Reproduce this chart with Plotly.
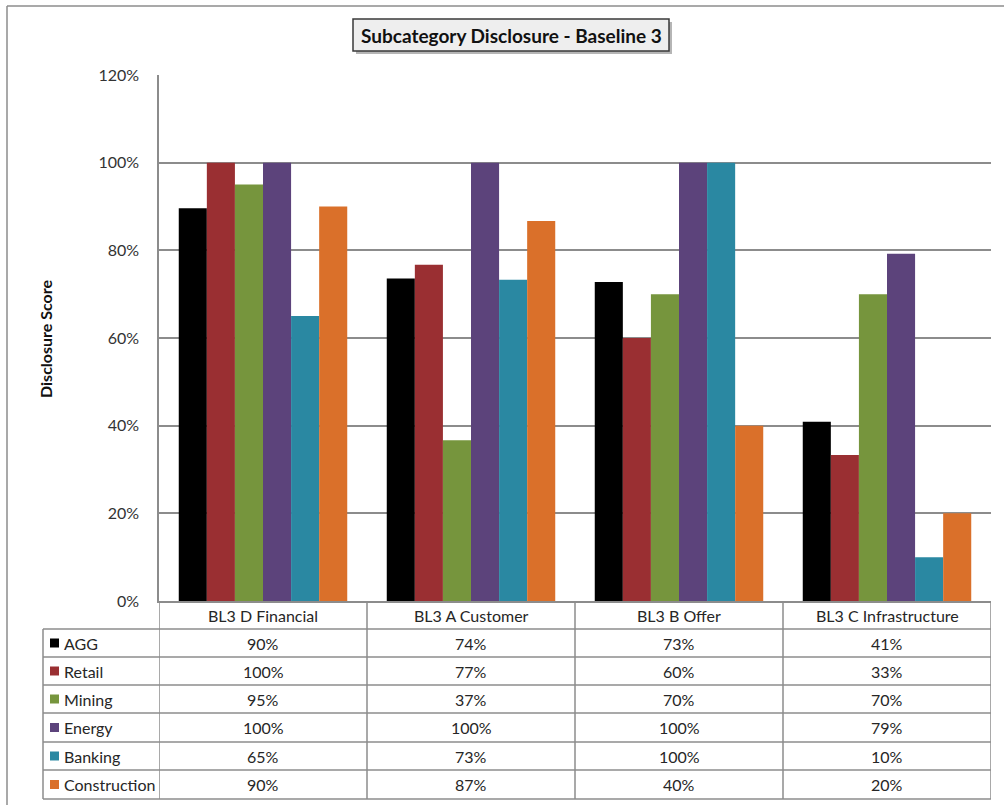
import plotly.graph_objects as go

categories = ["BL3 D Financial", "BL3 A Customer", "BL3 B Offer", "BL3 C Infrastructure"]
series_names = ["AGG", "Retail", "Mining", "Energy", "Banking", "Construction"]
agg = [89.6, 73.6, 72.8, 40.9]
retail = [100, 76.7, 60, 33.3]
mining = [95, 36.7, 70, 70]
energy = [100, 100, 100, 79.2]
banking = [65, 73.3, 100, 10]
construction = [90, 86.7, 40, 20]
series_values = [agg, retail, mining, energy, banking, construction]
colors = ["#000000", "#9a2f32", "#76953d", "#5c437b", "#2a88a2", "#da702a"]
y_ticks = [0, 20, 40, 60, 80, 100, 120]

W, H = 1004, 805
L, R, T, B = 159, 991, 75, 601
FONT = "Lato"
FS = 16
GRID = "#8c8c8c"


def px(x):
    return (x - L) / (R - L)


def py(y):
    return (B - y) / (B - T)


fig = go.Figure()
for name, vals, col in zip(series_names, series_values, colors):
    fig.add_trace(go.Bar(name=name, x=categories, y=vals, marker=dict(color=col, line=dict(width=0))))

shapes = []
annotations = []
line = dict(color=GRID, width=1.5)

# outer chart border (left and top)
shapes.append(dict(type="line", xref="paper", yref="paper", x0=px(7), x1=px(1010), y0=py(6), y1=py(6), line=line))
shapes.append(dict(type="line", xref="paper", yref="paper", x0=px(7), x1=px(7), y0=py(6), y1=py(810), line=line))

# data table
row_edges = [629, 657, 685, 713, 742, 770, 799]
for ye in row_edges:
    shapes.append(dict(type="line", xref="paper", yref="paper", x0=px(43), x1=px(R), y0=py(ye), y1=py(ye), line=line))
for i in range(len(categories) + 1):
    xb = i - 0.5
    shapes.append(dict(type="line", xref="x", yref="paper", x0=xb, x1=xb, y0=py(B), y1=py(row_edges[-1]), line=line))
shapes.append(dict(type="line", xref="paper", yref="paper", x0=px(43), x1=px(43), y0=py(row_edges[0]), y1=py(row_edges[-1]), line=line))

txt_font = dict(family=FONT, size=FS, color="#262626")

# header labels
for c in categories:
    annotations.append(dict(x=c, xref="x", y=py((B + row_edges[0]) / 2), yref="paper", text=c,
                            showarrow=False, font=txt_font, yanchor="middle"))

# rows
for r, (name, vals, col) in enumerate(zip(series_names, series_values, colors)):
    yc = (row_edges[r] + row_edges[r + 1]) / 2
    shapes.append(dict(type="rect", xref="paper", yref="paper", x0=px(50), x1=px(59), y0=py(yc - 4.5), y1=py(yc + 4.5),
                       fillcolor=col, line=dict(width=0)))
    annotations.append(dict(x=px(62), xref="paper", y=py(yc), yref="paper", text=name, showarrow=False,
                            xanchor="left", yanchor="middle", font=txt_font))
    for c, v in zip(categories, vals):
        annotations.append(dict(x=c, xref="x", y=py(yc), yref="paper", text=f"{round(v)}%", showarrow=False,
                                yanchor="middle", font=txt_font))

# title box with shadow
shapes.append(dict(type="rect", xref="paper", yref="paper", x0=px(356), x1=px(672), y0=py(22), y1=py(54),
                   fillcolor="#b5b5b5", line=dict(width=0), layer="above"))
shapes.append(dict(type="rect", xref="paper", yref="paper", x0=px(353), x1=px(669), y0=py(19), y1=py(51),
                   fillcolor="#eeeeee", line=dict(color="#3a3a3a", width=1.5), layer="above"))
annotations.append(dict(x=px(511), xref="paper", y=py(35), yref="paper", text="<b>Subcategory Disclosure - Baseline 3</b>",
                        showarrow=False, yanchor="middle", font=dict(family=FONT, size=19, color="#111")))

# y axis title
annotations.append(dict(x=px(45), xref="paper", y=py(339), yref="paper", text="<b>Disclosure Score</b>", textangle=-90,
                        showarrow=False, xanchor="center", yanchor="middle", font=dict(family=FONT, size=16, color="#111")))

fig.update_layout(
    width=W, height=H,
    margin=dict(l=L, r=W - R, t=T, b=H - B, pad=0),
    paper_bgcolor="white", plot_bgcolor="white",
    barmode="group", bargap=0.19, bargroupgap=0,
    showlegend=False,
    shapes=shapes, annotations=annotations,
    xaxis=dict(range=[-0.5, len(categories) - 0.5], showticklabels=False, ticks="", showgrid=False,
               showline=True, linecolor=GRID, linewidth=1.5, zeroline=False, fixedrange=True),
    yaxis=dict(range=[0, 120], tickvals=y_ticks, ticktext=[f"{t}%" for t in y_ticks],
               showgrid=True, gridcolor=GRID, gridwidth=1.5, showline=True, linecolor=GRID, linewidth=1.5,
               zeroline=False, ticks="outside", ticklen=15, tickcolor="white",
               tickfont=dict(family=FONT, size=FS, color="#333"), fixedrange=True),
)

fig.write_html("out.html", config={"displayModeBar": False},
               post_script="document.body.style.margin='0';document.body.style.overflow='hidden';")
